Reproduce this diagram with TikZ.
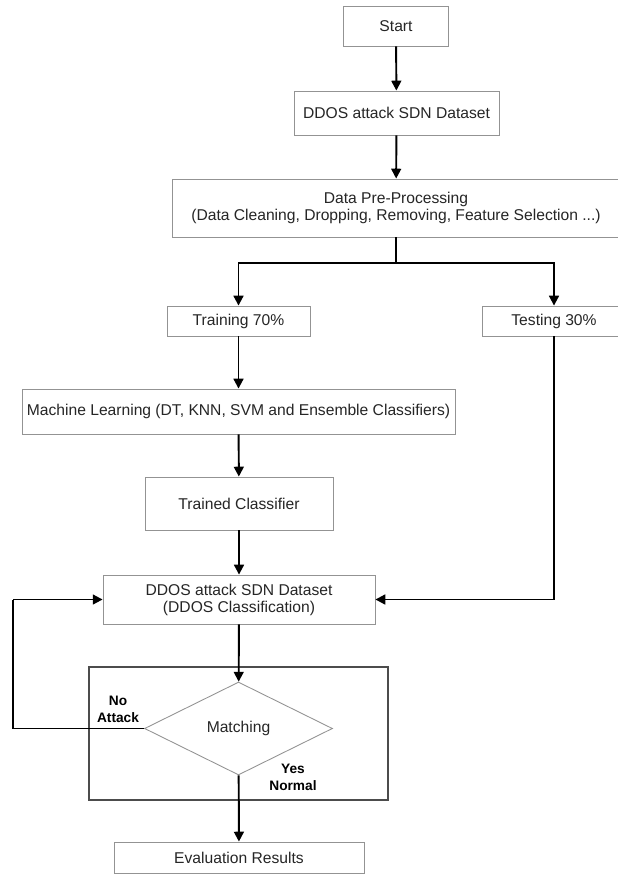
\documentclass[tikz,border=0pt]{standalone}
\usepackage{fontspec}
\setmainfont{Liberation Sans}
\usetikzlibrary{shapes.geometric,arrows.meta}

\tikzset{
  block/.style={draw=gray!85, line width=0.5pt, fill=white, text=black!85,
    align=center, inner sep=0pt, font=\fontsize{8.9}{9.7}\selectfont},
  decision/.style={diamond, draw=gray!85, line width=0.5pt, aspect=2,
    inner sep=0pt, text=black!85, font=\fontsize{8.9}{9.7}\selectfont},
  link/.style={line width=1.1pt, -{Triangle[width=5.6pt,length=5.6pt]}},
  tag/.style={align=center, inner sep=0pt,
    font=\bfseries\fontsize{7.8}{9.6}\selectfont},
  frame/.style={draw=black!70, line width=0.8pt}
}

\begin{document}
\begin{tikzpicture}[x=0.02cm, y=-0.02cm]
    % Fix the size of the page
    \useasboundingbox (0,0) rectangle (618,875);

    % Draw the steps of the flow
    \node[block, minimum width=2.1cm, minimum height=0.8cm] (start) at (396,26) {Start};
    \node[block, minimum width=4.1cm, minimum height=0.88cm] (data) at (396.5,113) {DDOS attack SDN Dataset};
    \node[block, minimum width=8.96cm, minimum height=1.16cm] (prep) at (396,208)
        {Data Pre-Processing\\(Data Cleaning, Dropping, Removing, Feature Selection ...)};
    \node[block, minimum width=2.86cm, minimum height=0.6cm] (train) at (238.5,321) {Training 70\%};
    \node[block, minimum width=2.88cm, minimum height=0.6cm] (test) at (554,321) {Testing 30\%};
    \node[block, minimum width=8.66cm, minimum height=0.9cm] (learn) at (238.5,411.5)
        {Machine Learning (DT, KNN, SVM and Ensemble Classifiers)};
    \node[block, minimum width=3.76cm, minimum height=1.06cm] (trained) at (239,503.5) {Trained Classifier};
    \node[block, minimum width=5.44cm, minimum height=0.98cm] (classify) at (239,599.5)
        {DDOS attack SDN Dataset\\(DDOS Classification)};

    % Draw the box round the decision
    \draw[frame] (89,667) rectangle (388,800);
    \node[decision, minimum width=3.76cm, minimum height=1.86cm] (match) at (238.5,728.5) {Matching};

    \node[block, minimum width=5cm, minimum height=0.62cm] (eval) at (239,857.5) {Evaluation Results};

    % Label the two outcomes
    \node[tag] (noattack) at (118,709) {No\\Attack};
    \node[tag] (normal) at (293,777.5) {Yes\\Normal};

    % Draw the connectors
    \coordinate (split) at (396,263);
    \coordinate (loop) at (13,599.5);
    \draw[link] (start) -- (data);
    \draw[link] (data) -- (prep);
    \draw[link, -] (prep) -- (split);
    \draw[link] (split) -| (train);
    \draw[link] (split) -| (test);
    \draw[link] (train) -- (learn);
    \draw[link] (learn) -- (trained);
    \draw[link] (trained) -- (classify);
    \draw[link] (test) |- (classify);
    \draw[link] (classify) -- (match);
    \draw[link, -] (match.west) -| (loop);
    \draw[link] (loop) -- (classify.west);
    \draw[link] (match) -- (eval);

\end{tikzpicture}
\end{document}
